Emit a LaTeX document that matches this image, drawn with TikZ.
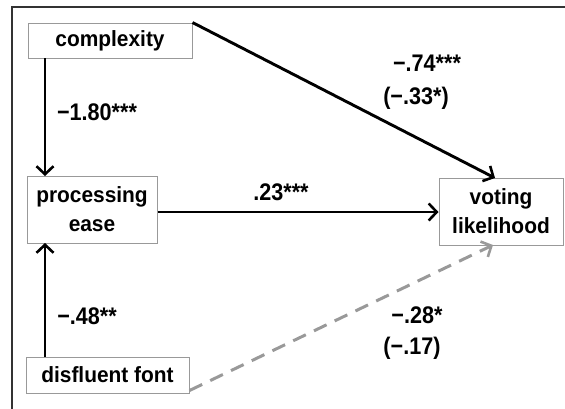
\documentclass[tikz,border=0pt]{standalone}
\usepackage{fontspec}
\setmainfont{Liberation Sans}
\newfontfamily\lblfont{Liberation Sans}[FakeStretch=0.9]
\newfontfamily\boxfont{Liberation Sans}[FakeStretch=0.95]
\usetikzlibrary{arrows.meta,calc}
\begin{document}
\begin{tikzpicture}[x=1pt,y=-1pt,
  box/.style={draw=black!40,line width=1pt,fill=white,inner sep=0pt,align=center,
    font=\boxfont\bfseries\fontsize{22}{29}\selectfont},
  lbl/.style={font=\lblfont\bfseries\fontsize{24}{26}\selectfont,inner sep=0pt},
  arr/.style={line width=2.9pt,-{Straight Barb[length=8pt,width=17pt,line width=2.6pt]}},
  darr/.style={line width=3pt,draw=black!40,dash pattern=on 14pt off 9pt,
    -{Straight Barb[length=8pt,width=17pt,line width=2.6pt]}},
  frame/.style={draw=black!80,line width=1.1pt}]
\useasboundingbox (0,0) rectangle (565,408);
\draw[frame] (12,410) -- (12,7) -- (567,7);
\node[box,minimum width=164pt,minimum height=35pt] (comp) at (110,40.5) {complexity};
\node[box,minimum width=130pt,minimum height=67pt] (proc) at (92,209.5) {processing\\ease};
\node[box,minimum width=124pt,minimum height=67pt] (vote) at (501,211.5) {voting\\likelihood};
\node[box,minimum width=163pt,minimum height=36pt] (disf) at (107.5,375) {disfluent font};
\coordinate (cdown) at (45,58);
\coordinate (pup) at (45,176);
\coordinate (pdown) at (45,243);
\coordinate (dup) at (45,357);
\coordinate (vtop) at (495,178);
\coordinate (vbot) at (493,245);
\draw[arr] (cdown) -- (pup);
\draw[arr] (dup) -- (pdown);
\draw[arr] (proc.east |- 0,212) -- (vote.west |- 0,212);
\draw[arr] (comp.north east) -- (vtop);
\draw[darr] ($(disf.south east)+(0,-3)$) -- (vbot);
\node[lbl] (l1) at (97,112) {−1.80***};
\node[lbl] (l2) at (427,63) {−.74***};
\node[lbl] (l3) at (416,98) {(−.33*)};
\node[lbl] (l4) at (281,192) {.23***};
\node[lbl] (l5) at (87,316) {−.48**};
\node[lbl] (l6) at (417,315) {−.28*};
\node[lbl] (l7) at (412,348) {(−.17)};
\end{tikzpicture}
\end{document}
